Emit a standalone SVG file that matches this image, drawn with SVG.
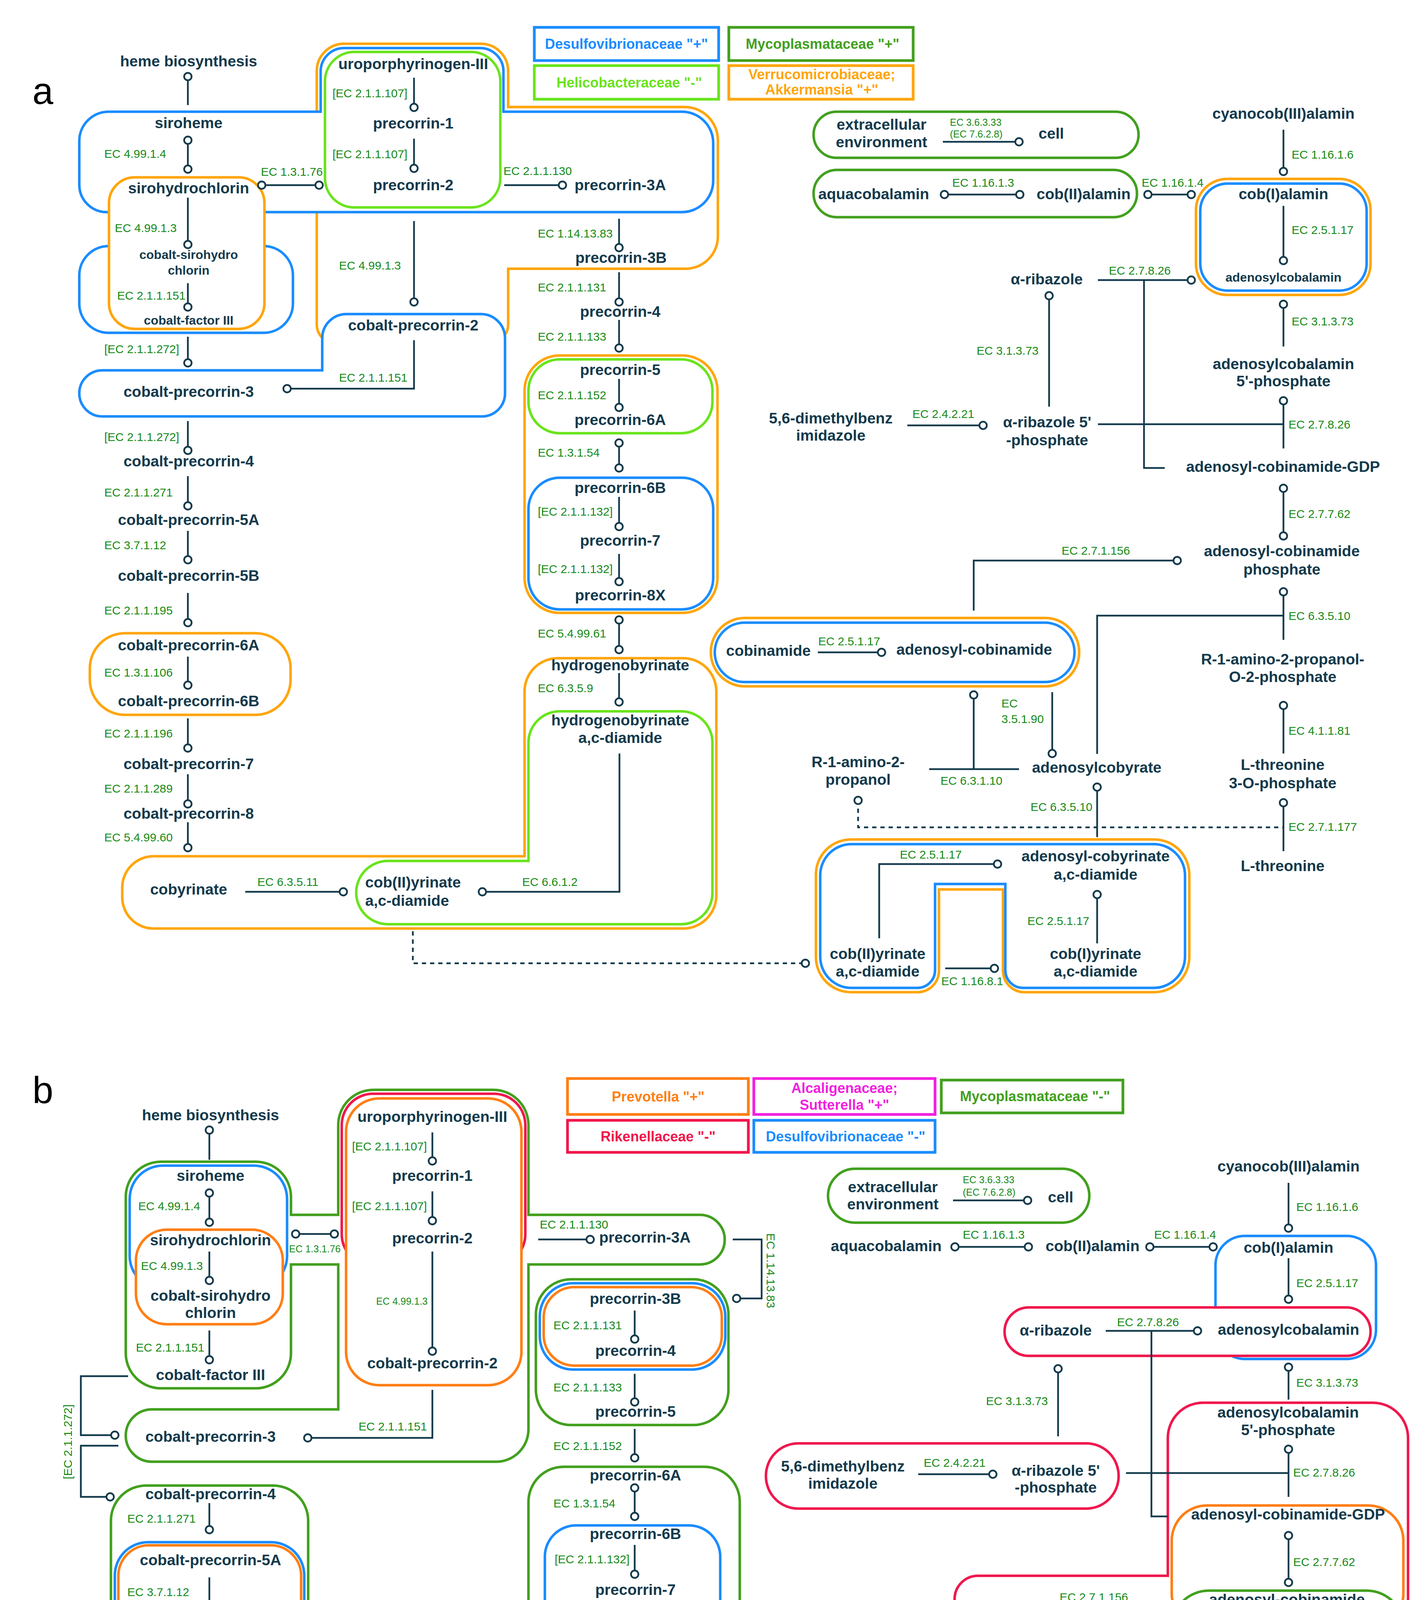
<svg xmlns="http://www.w3.org/2000/svg" width="3651" height="5265" viewBox="0 0 3651 5265">
<defs>
<style>
text{font-family:"Liberation Sans",Arial,sans-serif}
.n{font-weight:700;font-size:39px;fill:#133a4c;text-anchor:middle}
.s{font-size:32px}
.l{text-anchor:start}
.ec{font-size:30px;fill:#178a17}
.sm{font-size:25px}
.e{text-anchor:end}
.c{fill:none;stroke:#133a4c;stroke-width:4.5}
.d{stroke-dasharray:11 10}
.me{marker-end:url(#o)}
.ms{marker-start:url(#o)}
.mb{marker-start:url(#o);marker-end:url(#o)}
.b{fill:#fff;stroke-width:6.5}
.f{fill:none;stroke-width:6.5}
.bl{stroke:#1a8cff}
.or{stroke:#ffa50a}
.lg{stroke:#6ae41c}
.dg{stroke:#42a01e}
.ob{stroke:#ff7e14}
.rd{stroke:#f0174c}
.mg{stroke:#f21fe0}
.lb{fill:none;stroke-width:7}
.lt{font-weight:700;font-size:36px;text-anchor:middle}
.pl{font-size:96px;fill:#000}
</style>
<marker id="o" markerUnits="userSpaceOnUse" markerWidth="30" markerHeight="30" viewBox="-15 -15 30 30" refX="0" refY="0" orient="auto">
<circle r="9.5" fill="#fff" stroke="#133a4c" stroke-width="4.5"/>
</marker>
</defs>
<rect width="3651" height="5265" fill="#fff"/>
<text class="pl" x="83" y="266">a</text>
<text class="pl" x="83" y="2824">b</text>

<!-- ================= PANEL A ================= -->
<g id="a-legend">
<rect class="lb bl" x="1368" y="70" width="472" height="85"/>
<text class="lt" x="1604" y="125" fill="#1a8cff">Desulfovibrionaceae "+"</text>
<rect class="lb dg" x="1866" y="70" width="472" height="85"/>
<text class="lt" x="2106" y="125" fill="#42a01e">Mycoplasmataceae "+"</text>
<rect class="lb lg" x="1368" y="168" width="472" height="86"/>
<text class="lt" x="1611" y="224" fill="#6ae41c">Helicobacteraceae "-"</text>
<rect class="lb or" x="1866" y="168" width="472" height="86"/>
<text class="lt" x="2104" y="203" fill="#ffa50a" font-size="32">Verrucomicrobiaceae;</text>
<text class="lt" x="2104" y="242" fill="#ffa50a" font-size="32">Akkermansia "+"</text>
</g>

<g id="a-groups">
<path id="a-verruco-top" class="b or" d="M811 182A70 70 0 0 1 881 112L1231 112A70 70 0 0 1 1301 182L1301 274L1753 274A85 85 0 0 1 1838 359L1838 605A83 83 0 0 1 1755 688L1301 688L1301 830A50 50 0 0 1 1251 880L861 880A50 50 0 0 1 811 830Z"/>
<path id="a-desulfo-siroheme" class="b bl" d="M203 361A75 75 0 0 1 278 286L821 286L821 183A60 60 0 0 1 881 123L1229 123A60 60 0 0 1 1289 183L1289 286L1746 286A80 80 0 0 1 1826 366L1826 463A80 80 0 0 1 1746 543L273 543A70 70 0 0 1 203 473Z"/>
<rect id="a-helico-uro" class="b lg" x="832" y="133" width="449" height="398" rx="75"/>
<rect id="a-desulfo-cosiro" class="b bl" x="203" y="630" width="547" height="222" rx="75"/>
<rect id="a-verruco-siro" class="b or" x="279" y="454" width="398" height="388" rx="66"/>
<path id="a-desulfo-cp2" class="b bl" d="M825 866A62 62 0 0 1 887 804L1231 804A62 62 0 0 1 1293 866L1293 1007A59 59 0 0 1 1234 1066L262 1066A59 59 0 0 1 262 948L825 948Z"/>
<rect id="a-verruco-cp6" class="b or" x="230" y="1621" width="514" height="209" rx="90"/>
<rect id="a-verruco-p5" class="b or" x="1343" y="910" width="494" height="659" rx="90"/>
<rect id="a-helico-p5" class="b lg" x="1353" y="920" width="471" height="189" rx="80"/>
<rect id="a-desulfo-p6b" class="b bl" x="1353" y="1223" width="473" height="337" rx="80"/>
<path id="a-verruco-hby" class="b or" d="M1343 1770A85 85 0 0 1 1428 1685L1749 1685A85 85 0 0 1 1834 1770L1834 2292A85 85 0 0 1 1749 2377L393 2377A80 80 0 0 1 313 2297L313 2272A80 80 0 0 1 393 2192L1343 2192Z"/>
<path id="a-helico-hby" class="b lg" d="M1353 1901A80 80 0 0 1 1433 1821L1744 1821A80 80 0 0 1 1824 1901L1824 2286A80 80 0 0 1 1744 2366L993 2366A81 81 0 0 1 993 2204L1353 2204Z"/>
<rect id="a-myco-extra" class="b dg" x="2083" y="286" width="832" height="118" rx="59"/>
<rect id="a-myco-aqua" class="b dg" x="2083" y="435" width="828" height="121" rx="60"/>
<rect id="a-verruco-cob1" class="b or" x="3062" y="458" width="447" height="297" rx="80"/>
<rect id="a-desulfo-cob1" class="b bl" x="3073" y="470" width="426" height="274" rx="70"/>
<rect id="a-verruco-cbi" class="b or" x="1820" y="1582" width="943" height="175" rx="87"/>
<rect id="a-desulfo-cbi" class="b bl" x="1830" y="1594" width="921" height="152" rx="76"/>
<path id="a-verruco-cby" class="b or" d="M2089 2239A90 90 0 0 1 2179 2149L2955 2149A90 90 0 0 1 3045 2239L3045 2450A90 90 0 0 1 2955 2540L2623 2540A55 55 0 0 1 2568 2485L2568 2277L2404 2277L2404 2485A55 55 0 0 1 2349 2540L2179 2540A90 90 0 0 1 2089 2450Z"/>
<path id="a-desulfo-cby" class="b bl" d="M2100 2241A80 80 0 0 1 2180 2161L2954 2161A80 80 0 0 1 3034 2241L3034 2449A80 80 0 0 1 2954 2529L2619 2529A45 45 0 0 1 2574 2484L2574 2263L2394 2263L2394 2484A45 45 0 0 1 2349 2529L2180 2529A80 80 0 0 1 2100 2449Z"/>
</g>

<g id="a-connectors" class="c">
<path class="ms" d="M481 196V269"/>
<path class="mb" d="M481 359V433"/>
<path class="me" d="M481 506V626"/>
<path class="me" d="M481 725V786"/>
<path class="me" d="M481 862V929"/>
<path class="me" d="M481 1078V1153"/>
<path class="me" d="M481 1219V1295"/>
<path class="me" d="M481 1359V1433"/>
<path class="me" d="M481 1518V1594"/>
<path class="me" d="M481 1681V1754"/>
<path class="me" d="M481 1839V1915"/>
<path class="me" d="M481 1982V2058"/>
<path class="me" d="M481 2105V2170"/>
<path class="me" d="M628 2283H879"/>
<path class="me" d="M1586 1929V2283H1235"/>
<path class="me d" d="M1057 2384V2466H2062"/>
<path class="mb" d="M670 474H817"/>
<path class="me" d="M1060 199V275"/>
<path class="me" d="M1060 355V431"/>
<path class="me" d="M1060 566V773"/>
<path class="me" d="M1060 871V995H735"/>
<path class="me" d="M1291 474H1440"/>
<path class="me" d="M1585 560V634"/>
<path class="me" d="M1585 697V773"/>
<path class="me" d="M1585 819V891"/>
<path class="me" d="M1585 970V1043"/>
<path class="mb" d="M1585 1134V1198"/>
<path class="me" d="M1585 1272V1348"/>
<path class="me" d="M1585 1418V1489"/>
<path class="mb" d="M1585 1587V1663"/>
<path class="me" d="M1585 1723V1797"/>
<path class="me" d="M2414 363H2609"/>
<path class="mb" d="M2418 498H2611"/>
<path class="mb" d="M2939 498H3050"/>
<path class="me" d="M3286 332V439"/>
<path class="me" d="M3286 527V667"/>
<path class="me" d="M2811 717H3050"/>
<path d="M2929 717V1198H2982"/>
<path class="ms" d="M2686 757V1041"/>
<path class="ms" d="M3286 779V887"/>
<path class="ms" d="M3286 1026V1148"/>
<path d="M2811 1086H3286"/>
<path class="me" d="M2323 1089H2517"/>
<path class="mb" d="M3286 1250V1372"/>
<path class="me" d="M2493 1563V1435H3014"/>
<path class="ms" d="M3286 1515V1638"/>
<path d="M2809 1930V1576H3286"/>
<path class="ms" d="M3286 1806V1929"/>
<path class="ms" d="M3286 2055V2179"/>
<path class="me" d="M2094 1670H2257"/>
<path class="ms" d="M2493 1779V1969"/>
<path d="M2379 1969H2609"/>
<path class="me" d="M2694 1772V1929"/>
<path class="ms d" d="M2197 2049V2118H3286"/>
<path class="ms" d="M2809 2015V2143"/>
<path class="ms" d="M2809 2290V2415"/>
<path class="me" d="M2251 2402V2212H2554"/>
<path class="me" d="M2420 2479H2546"/>
</g>

<g id="a-ec-labels" class="ec">
<text x="267" y="404">EC 4.99.1.4</text>
<text x="294" y="594">EC 4.99.1.3</text>
<text x="300" y="767">EC 2.1.1.151</text>
<text x="267" y="904">[EC 2.1.1.272]</text>
<text x="267" y="1129">[EC 2.1.1.272]</text>
<text x="267" y="1271">EC 2.1.1.271</text>
<text x="267" y="1406">EC 3.7.1.12</text>
<text x="267" y="1573">EC 2.1.1.195</text>
<text x="267" y="1732">EC 1.3.1.106</text>
<text x="267" y="1888">EC 2.1.1.196</text>
<text x="267" y="2029">EC 2.1.1.289</text>
<text x="267" y="2154">EC 5.4.99.60</text>
<text x="659" y="2268">EC 6.3.5.11</text>
<text x="1337" y="2268">EC 6.6.1.2</text>
<text x="668" y="450">EC 1.3.1.76</text>
<text class="e" x="1043" y="249">[EC 2.1.1.107]</text>
<text class="e" x="1043" y="405">[EC 2.1.1.107]</text>
<text x="868" y="690">EC 4.99.1.3</text>
<text x="868" y="977">EC 2.1.1.151</text>
<text x="1289" y="448">EC 2.1.1.130</text>
<text x="1377" y="608">EC 1.14.13.83</text>
<text x="1377" y="746">EC 2.1.1.131</text>
<text x="1377" y="872">EC 2.1.1.133</text>
<text x="1377" y="1022">EC 2.1.1.152</text>
<text x="1377" y="1169">EC 1.3.1.54</text>
<text x="1377" y="1320">[EC 2.1.1.132]</text>
<text x="1377" y="1467">[EC 2.1.1.132]</text>
<text x="1377" y="1632">EC 5.4.99.61</text>
<text x="1377" y="1772">EC 6.3.5.9</text>
<text class="sm" x="2432" y="322">EC 3.6.3.33</text>
<text class="sm" x="2432" y="352">(EC 7.6.2.8)</text>
<text x="2438" y="478">EC 1.16.1.3</text>
<text x="2923" y="478">EC 1.16.1.4</text>
<text x="3307" y="406">EC 1.16.1.6</text>
<text x="3307" y="599">EC 2.5.1.17</text>
<text x="2839" y="703">EC 2.7.8.26</text>
<text class="e" x="2659" y="908">EC 3.1.3.73</text>
<text x="3307" y="833">EC 3.1.3.73</text>
<text x="3299" y="1097">EC 2.7.8.26</text>
<text x="2336" y="1070">EC 2.4.2.21</text>
<text x="3299" y="1326">EC 2.7.7.62</text>
<text x="2718" y="1420">EC 2.7.1.156</text>
<text x="3299" y="1587">EC 6.3.5.10</text>
<text x="3299" y="1881">EC 4.1.1.81</text>
<text x="3299" y="2127">EC 2.7.1.177</text>
<text x="2095" y="1652">EC 2.5.1.17</text>
<text x="2408" y="2009">EC 6.3.1.10</text>
<text x="2564" y="1811">EC</text>
<text x="2564" y="1851">3.5.1.90</text>
<text class="e" x="2797" y="2076">EC 6.3.5.10</text>
<text class="e" x="2789" y="2368">EC 2.5.1.17</text>
<text x="2304" y="2198">EC 2.5.1.17</text>
<text x="2410" y="2522">EC 1.16.8.1</text>
</g>

<g id="a-nodes">
<g id="a-heme"><text class="n" x="483" y="170">heme biosynthesis</text></g>
<g id="a-siroheme"><text class="n" x="483" y="328">siroheme</text></g>
<g id="a-sirohydrochlorin"><text class="n" x="483" y="495">sirohydrochlorin</text></g>
<g id="a-cosirohydrochlorin"><text class="n s" x="483" y="663">cobalt-sirohydro</text><text class="n s" x="483" y="703">chlorin</text></g>
<g id="a-cofactor3"><text class="n s" x="483" y="831">cobalt-factor III</text></g>
<g id="a-cp3"><text class="n" x="483" y="1016">cobalt-precorrin-3</text></g>
<g id="a-cp4"><text class="n" x="483" y="1194">cobalt-precorrin-4</text></g>
<g id="a-cp5a"><text class="n" x="483" y="1344">cobalt-precorrin-5A</text></g>
<g id="a-cp5b"><text class="n" x="483" y="1487">cobalt-precorrin-5B</text></g>
<g id="a-cp6a"><text class="n" x="483" y="1665">cobalt-precorrin-6A</text></g>
<g id="a-cp6b"><text class="n" x="483" y="1808">cobalt-precorrin-6B</text></g>
<g id="a-cp7"><text class="n" x="483" y="1969">cobalt-precorrin-7</text></g>
<g id="a-cp8"><text class="n" x="483" y="2096">cobalt-precorrin-8</text></g>
<g id="a-cobyrinate"><text class="n" x="483" y="2290">cobyrinate</text></g>
<g id="a-cob2yrinate-1"><text class="n l" x="935" y="2272">cob(II)yrinate</text><text class="n l" x="935" y="2319">a,c-diamide</text></g>
<g id="a-uro"><text class="n" x="1058" y="177">uroporphyrinogen-III</text></g>
<g id="a-p1"><text class="n" x="1058" y="329">precorrin-1</text></g>
<g id="a-p2"><text class="n" x="1058" y="487">precorrin-2</text></g>
<g id="a-cp2"><text class="n" x="1058" y="846">cobalt-precorrin-2</text></g>
<g id="a-p3a"><text class="n l" x="1471" y="487">precorrin-3A</text></g>
<g id="a-p3b"><text class="n" x="1590" y="673">precorrin-3B</text></g>
<g id="a-p4"><text class="n" x="1588" y="811">precorrin-4</text></g>
<g id="a-p5"><text class="n" x="1588" y="960">precorrin-5</text></g>
<g id="a-p6a"><text class="n" x="1588" y="1088">precorrin-6A</text></g>
<g id="a-p6b"><text class="n" x="1588" y="1262">precorrin-6B</text></g>
<g id="a-p7"><text class="n" x="1588" y="1397">precorrin-7</text></g>
<g id="a-p8x"><text class="n" x="1588" y="1537">precorrin-8X</text></g>
<g id="a-hby"><text class="n" x="1588" y="1716">hydrogenobyrinate</text></g>
<g id="a-hbyd"><text class="n" x="1588" y="1857">hydrogenobyrinate</text><text class="n" x="1588" y="1902">a,c-diamide</text></g>
<g id="a-extra"><text class="n" x="2257" y="332">extracellular</text><text class="n" x="2257" y="377">environment</text></g>
<g id="a-cell"><text class="n l" x="2659" y="355">cell</text></g>
<g id="a-aqua"><text class="n l" x="2095" y="510">aquacobalamin</text></g>
<g id="a-cob2alamin"><text class="n l" x="2654" y="510">cob(II)alamin</text></g>
<g id="a-cyano"><text class="n" x="3286" y="304">cyanocob(III)alamin</text></g>
<g id="a-cob1alamin"><text class="n" x="3286" y="510">cob(I)alamin</text></g>
<g id="a-adocbl"><text class="n s" x="3286" y="721">adenosylcobalamin</text></g>
<g id="a-ribazole"><text class="n" x="2680" y="728">α-ribazole</text></g>
<g id="a-adocblp"><text class="n" x="3286" y="945">adenosylcobalamin</text><text class="n" x="3286" y="989">5'-phosphate</text></g>
<g id="a-dmb"><text class="n" x="2127" y="1084">5,6-dimethylbenz</text><text class="n" x="2127" y="1128">imidazole</text></g>
<g id="a-ribazolep"><text class="n" x="2681" y="1094">α-ribazole 5'</text><text class="n" x="2681" y="1140">-phosphate</text></g>
<g id="a-gdp"><text class="n" x="3285" y="1208">adenosyl-cobinamide-GDP</text></g>
<g id="a-adocbip"><text class="n" x="3282" y="1424">adenosyl-cobinamide</text><text class="n" x="3282" y="1471">phosphate</text></g>
<g id="a-r1o2p"><text class="n" x="3284" y="1701">R-1-amino-2-propanol-</text><text class="n" x="3284" y="1746">O-2-phosphate</text></g>
<g id="a-thrp"><text class="n" x="3284" y="1971">L-threonine</text><text class="n" x="3284" y="2018">3-O-phosphate</text></g>
<g id="a-thr"><text class="n" x="3284" y="2230">L-threonine</text></g>
<g id="a-cobinamide"><text class="n l" x="1859" y="1679">cobinamide</text></g>
<g id="a-adocbi"><text class="n l" x="2295" y="1676">adenosyl-cobinamide</text></g>
<g id="a-adocby"><text class="n" x="2808" y="1978">adenosylcobyrate</text></g>
<g id="a-r1ap"><text class="n" x="2197" y="1964">R-1-amino-2-</text><text class="n" x="2197" y="2009">propanol</text></g>
<g id="a-adocbyrd"><text class="n" x="2805" y="2205">adenosyl-cobyrinate</text><text class="n" x="2805" y="2252">a,c-diamide</text></g>
<g id="a-cob1yrd"><text class="n" x="2805" y="2455">cob(I)yrinate</text><text class="n" x="2805" y="2500">a,c-diamide</text></g>
<g id="a-cob2yrinate-2"><text class="n" x="2247" y="2455">cob(II)yrinate</text><text class="n" x="2247" y="2500">a,c-diamide</text></g>
</g>

<!-- ================= PANEL B ================= -->
<g id="b-legend">
<rect class="lb ob" x="1453" y="2761" width="463" height="92"/>
<text class="lt" x="1685" y="2820" fill="#ff7e14">Prevotella  "+"</text>
<rect class="lb mg" x="1930" y="2761" width="464" height="92"/>
<text class="lt" x="2162" y="2798" fill="#f21fe0">Alcaligenaceae;</text>
<text class="lt" x="2162" y="2841" fill="#f21fe0">Sutterella "+"</text>
<rect class="lb dg" x="2410" y="2765" width="465" height="84"/>
<text class="lt" x="2650" y="2819" fill="#42a01e">Mycoplasmataceae "-"</text>
<rect class="lb rd" x="1453" y="2868" width="463" height="82"/>
<text class="lt" x="1685" y="2922" fill="#f0174c">Rikenellaceae "-"</text>
<rect class="lb bl" x="1930" y="2868" width="464" height="82"/>
<text class="lt" x="2165" y="2922" fill="#1a8cff">Desulfovibrionaceae "-"</text>
</g>

<g id="b-groups">
<path id="b-myco-top" class="b dg" d="M322 3064A90 90 0 0 1 412 2974L655 2974A90 90 0 0 1 745 3064L745 3110L866 3110L866 2880A90 90 0 0 1 956 2790L1263 2790A90 90 0 0 1 1353 2880L1353 3110L1792 3110A63.5 63.5 0 0 1 1792 3237L1353 3237L1353 3659A83 83 0 0 1 1270 3742L389 3742A67 67 0 0 1 389 3608L866 3608L866 3237L745 3237L745 3464A90 90 0 0 1 655 3554L412 3554A90 90 0 0 1 322 3464Z"/>
<rect id="b-desulfo-siroheme" class="b bl" x="332" y="2984" width="403" height="316" rx="85"/>
<rect id="b-prevo-siro" class="b ob" x="348" y="3148" width="376" height="242" rx="79"/>
<rect id="b-riken-uro" class="b rd" x="875" y="2800" width="470" height="440" rx="80"/>
<rect id="b-prevo-uro" class="b ob" x="886" y="2812" width="449" height="734" rx="85"/>
<rect id="b-myco-cp4" class="b dg" x="284" y="3803" width="505" height="407" rx="90"/>
<rect id="b-desulfo-cp5" class="b bl" x="294" y="3948" width="485" height="252" rx="85"/>
<rect id="b-prevo-cp5" class="b ob" x="303" y="3956" width="468" height="236" rx="78"/>
<rect id="b-myco-cp6" class="b dg" x="284" y="4315" width="505" height="245" rx="90"/>
<path id="b-myco-cby" class="b dg" d="M284 4850A90 90 0 0 1 374 4760L738 4760A50 50 0 0 1 788 4810L788 4846L1150 4846A102 102 0 0 1 1150 5050L374 5050A90 90 0 0 1 284 4960Z"/>
<rect id="b-alcali-cp6b" class="b mg" x="299" y="4457" width="476" height="365" rx="70"/>
<rect id="b-myco-p3b" class="b dg" x="1372" y="3275" width="493" height="373" rx="90"/>
<rect id="b-desulfo-p3b" class="b bl" x="1382" y="3285" width="475" height="221" rx="85"/>
<rect id="b-prevo-p3b" class="b ob" x="1392" y="3295" width="456" height="201" rx="78"/>
<rect id="b-myco-p6a" class="b dg" x="1353" y="3755" width="541" height="865" rx="90"/>
<rect id="b-desulfo-p6b" class="b bl" x="1395" y="3905" width="449" height="333" rx="80"/>
<path id="b-desulfo-hbyd" class="b bl" d="M1370 4581A90 90 0 0 1 1460 4491L1794 4491A90 90 0 0 1 1884 4581L1884 4954A90 90 0 0 1 1794 5044L1032 5044A95 95 0 0 1 1032 4854L1370 4854Z"/>
<path id="b-prevo-hbyd" class="b ob" d="M1381 4581A80 80 0 0 1 1461 4501L1793 4501A80 80 0 0 1 1873 4581L1873 4953A80 80 0 0 1 1793 5033L1033 5033A83.5 83.5 0 0 1 1033 4866L1381 4866Z"/>
<rect id="b-myco-extra" class="b dg" x="2120" y="2992" width="669" height="138" rx="69"/>
<rect id="b-desulfo-cob1" class="b bl" x="3112" y="3164" width="411" height="315" rx="75"/>
<rect id="b-riken-ribazole" class="b rd" x="2572" y="3347" width="937" height="124" rx="62"/>
<rect id="b-riken-dmb" class="b rd" x="1961" y="3695" width="903" height="167" rx="83"/>
<rect id="b-desulfo-cbi" class="b bl" x="1921" y="4264" width="820" height="151" rx="75"/>
<path id="b-myco-adocby" class="b dg" d="M2609 4634A80 80 0 0 1 2689 4554L2962 4554A80 80 0 0 1 3042 4634L3042 4930A60 60 0 0 1 2982 4990L2669 4990A60 60 0 0 1 2609 4930Z"/>
<path id="b-riken-main" class="b rd" d="M2140 4566L2444 4566L2444 4407L2378 4407A67 67 0 0 1 2378 4273L2444 4273L2444 4094A60 60 0 0 1 2504 4034L2990 4034L2990 3681A90 90 0 0 1 3080 3591L3515 3591A90 90 0 0 1 3605 3681L3605 4361A90 90 0 0 1 3515 4451L3080 4451A90 90 0 0 1 2990 4361L2990 4172L2593 4172L2593 4273L2668 4273A67 67 0 0 1 2668 4407L2593 4407L2593 4566L2957 4566A65 65 0 0 1 2957 4696L2140 4696A65 65 0 0 1 2140 4566Z"/>
<rect id="b-prevo-gdp" class="f ob" x="3000" y="3854" width="593" height="316" rx="90"/>
<rect id="b-myco-adocbip" class="f dg" x="3000" y="4072" width="594" height="369" rx="95"/>
<rect id="b-alcali-thr" class="b mg" x="3061" y="4611" width="472" height="308" rx="64"/>
<path id="b-desulfo-cby" class="b bl" d="M2130 4910A90 90 0 0 1 2220 4820L2946 4820A90 90 0 0 1 3036 4910L3036 5100A90 90 0 0 1 2946 5190L2722 5190A60 60 0 0 1 2662 5130L2662 4946L2432 4946L2432 5130A60 60 0 0 1 2372 5190L2220 5190A90 90 0 0 1 2130 5100Z"/>
</g>

<g id="b-connectors" class="c">
<path class="ms" d="M536 2893V2969"/>
<path class="mb" d="M536 3054V3129"/>
<path class="me" d="M536 3204V3278"/>
<path class="me" d="M536 3406V3481"/>
<path class="mb" d="M757 3159H856"/>
<path class="me" d="M328 3523H207V3674H294"/>
<path class="me" d="M303 3701H207V3832H282"/>
<path class="ms" d="M788 3681H1107V3558"/>
<path class="me" d="M1107 2899V2972"/>
<path class="me" d="M1107 3050V3125"/>
<path class="me" d="M1107 3204V3459"/>
<path class="me" d="M536 3848V3916"/>
<path class="me" d="M536 4038V4114"/>
<path class="me" d="M536 4220V4296"/>
<path class="me" d="M536 4361V4435"/>
<path class="me" d="M536 4514V4589"/>
<path class="me" d="M536 4673V4747"/>
<path class="me" d="M539 4831V4913"/>
<path class="me" d="M667 4950H916"/>
<path class="me" d="M1627 4602V4950H1280"/>
<path class="me d" d="M1107 5070V5132H2110"/>
<path class="me" d="M1378 3173H1511"/>
<path class="me" d="M1876 3173H1950V3324H1886"/>
<path class="me" d="M1625 3355V3428"/>
<path class="me" d="M1625 3517V3589"/>
<path class="me" d="M1625 3658V3732"/>
<path class="mb" d="M1625 3809V3882"/>
<path class="me" d="M1625 3955V4030"/>
<path class="me" d="M1625 4105V4178"/>
<path class="mb" d="M1625 4267V4337"/>
<path class="me" d="M1625 4399V4472"/>
<path class="me" d="M2440 3073H2631"/>
<path class="mb" d="M2445 3192H2633"/>
<path class="mb" d="M2944 3192H3106"/>
<path class="me" d="M3299 3028V3144"/>
<path class="me" d="M3299 3221V3326"/>
<path class="me" d="M2831 3407H3066"/>
<path d="M2948 3407V3882H2990"/>
<path class="ms" d="M3299 3500V3583"/>
<path class="ms" d="M2709 3504V3677"/>
<path class="ms" d="M3299 3710V3832"/>
<path d="M2883 3771H3299"/>
<path class="me" d="M2351 3774H2542"/>
<path class="mb" d="M3299 3931V4051"/>
<path class="ms" d="M3299 4193V4315"/>
<path d="M2829 4541V4254H3299"/>
<path class="ms" d="M3299 4472V4596"/>
<path class="ms" d="M3299 4726V4847"/>
<path class="me" d="M2127 4344H2289"/>
<path class="me" d="M2518 4306V4114H2969"/>
<path class="ms" d="M2518 4384V4642"/>
<path d="M2406 4642H2633"/>
<path class="me" d="M2717 4411V4531"/>
<path class="ms d" d="M2228 4720V4789H3299"/>
<path class="ms" d="M2829 4726V4810"/>
<path class="ms" d="M2829 4956V5078"/>
<path class="me" d="M2280 5070V4881H2591"/>
<path class="me" d="M2452 5135H2642"/>
</g>

<g id="b-ec-labels" class="ec">
<text x="354" y="3098">EC 4.99.1.4</text>
<text x="361" y="3251">EC 4.99.1.3</text>
<text x="348" y="3460">EC 2.1.1.151</text>
<text class="sm" x="740" y="3206">EC 1.3.1.76</text>
<text transform="translate(184 3691) rotate(-90)" text-anchor="middle">[EC 2.1.1.272]</text>
<text x="918" y="3662">EC 2.1.1.151</text>
<text class="e" x="1093" y="2945">[EC 2.1.1.107]</text>
<text class="e" x="1093" y="3098">[EC 2.1.1.107]</text>
<text class="sm e" x="1095" y="3340">EC 4.99.1.3</text>
<text x="326" y="3898">EC 2.1.1.271</text>
<text x="326" y="4086">EC 3.7.1.12</text>
<text x="326" y="4275">EC 2.1.1.195</text>
<text x="326" y="4414">EC 1.3.1.106</text>
<text x="326" y="4562">EC 2.1.1.196</text>
<text x="326" y="4720">EC 2.1.1.289</text>
<text class="e" x="528" y="4885">EC 5.4.99.60</text>
<text x="706" y="4935">EC 6.3.5.11</text>
<text x="1381" y="4935">EC 6.6.1.2</text>
<text x="1382" y="3145">EC 2.1.1.130</text>
<text transform="translate(1963 3253) rotate(90)" text-anchor="middle">EC 1.14.13.83</text>
<text x="1417" y="3403">EC 2.1.1.131</text>
<text x="1417" y="3562">EC 2.1.1.133</text>
<text x="1417" y="3712">EC 2.1.1.152</text>
<text x="1417" y="3859">EC 1.3.1.54</text>
<text x="1420" y="4002">[EC 2.1.1.132]</text>
<text x="1420" y="4158">[EC 2.1.1.132]</text>
<text x="1417" y="4317">EC 5.4.99.61</text>
<text x="1417" y="4447">EC 6.3.5.9</text>
<text class="sm" x="2465" y="3029">EC 3.6.3.33</text>
<text class="sm" x="2465" y="3061">(EC 7.6.2.8)</text>
<text x="2465" y="3171">EC 1.16.1.3</text>
<text x="2955" y="3171">EC 1.16.1.4</text>
<text x="3319" y="3100">EC 1.16.1.6</text>
<text x="3319" y="3295">EC 2.5.1.17</text>
<text x="2860" y="3395">EC 2.7.8.26</text>
<text x="3319" y="3550">EC 3.1.3.73</text>
<text class="e" x="2683" y="3597">EC 3.1.3.73</text>
<text x="3311" y="3780">EC 2.7.8.26</text>
<text x="2365" y="3755">EC 2.4.2.21</text>
<text x="3311" y="4009">EC 2.7.7.62</text>
<text x="3311" y="4264">EC 6.3.5.10</text>
<text x="3311" y="4548">EC 4.1.1.81</text>
<text x="3311" y="4797">EC 2.7.1.177</text>
<text x="2144" y="4326">EC 2.5.1.17</text>
<text x="2713" y="4099">EC 2.7.1.156</text>
<text x="2436" y="4678">EC 6.3.1.10</text>
<text transform="translate(2767 4411) rotate(90)">EC</text>
<text transform="translate(2727 4411) rotate(90)">3.5.1.90</text>
<text x="2852" y="4763">EC 6.3.5.10</text>
<text x="2334" y="4864">EC 2.5.1.17</text>
<text x="2670" y="5032">EC 2.5.1.17</text>
<text x="2472" y="5120">EC 1.16.8.1</text>
</g>

<g id="b-nodes">
<g id="b-heme"><text class="n" x="539" y="2868">heme biosynthesis</text></g>
<g id="b-siroheme"><text class="n" x="539" y="3023">siroheme</text></g>
<g id="b-sirohydrochlorin"><text class="n" x="539" y="3188">sirohydrochlorin</text></g>
<g id="b-cosirohydrochlorin"><text class="n" x="539" y="3330">cobalt-sirohydro</text><text class="n" x="539" y="3374">chlorin</text></g>
<g id="b-cofactor3"><text class="n" x="539" y="3533">cobalt-factor III</text></g>
<g id="b-uro"><text class="n" x="1107" y="2872">uroporphyrinogen-III</text></g>
<g id="b-p1"><text class="n" x="1107" y="3023">precorrin-1</text></g>
<g id="b-p2"><text class="n" x="1107" y="3183">precorrin-2</text></g>
<g id="b-cp2"><text class="n" x="1107" y="3503">cobalt-precorrin-2</text></g>
<g id="b-cp3"><text class="n" x="539" y="3691">cobalt-precorrin-3</text></g>
<g id="b-cp4"><text class="n" x="539" y="3838">cobalt-precorrin-4</text></g>
<g id="b-cp5a"><text class="n" x="539" y="4007">cobalt-precorrin-5A</text></g>
<g id="b-cp5b"><text class="n" x="539" y="4166">cobalt-precorrin-5B</text></g>
<g id="b-cp6a"><text class="n" x="539" y="4348">cobalt-precorrin-6A</text></g>
<g id="b-cp6b"><text class="n" x="539" y="4495">cobalt-precorrin-6B</text></g>
<g id="b-cp7"><text class="n" x="539" y="4642">cobalt-precorrin-7</text></g>
<g id="b-cp8"><text class="n" x="539" y="4799">cobalt-precorrin-8</text></g>
<g id="b-cobyrinate"><text class="n" x="539" y="4956">cobyrinate</text></g>
<g id="b-cob2yrinate-1"><text class="n l" x="974" y="4940">cob(II)yrinate</text><text class="n l" x="974" y="4984">a,c-diamide</text></g>
<g id="b-p3a"><text class="n l" x="1534" y="3181">precorrin-3A</text></g>
<g id="b-p3b"><text class="n" x="1627" y="3338">precorrin-3B</text></g>
<g id="b-p4"><text class="n" x="1627" y="3471">precorrin-4</text></g>
<g id="b-p5"><text class="n" x="1627" y="3627">precorrin-5</text></g>
<g id="b-p6a"><text class="n" x="1627" y="3790">precorrin-6A</text></g>
<g id="b-p6b"><text class="n" x="1627" y="3940">precorrin-6B</text></g>
<g id="b-p7"><text class="n" x="1627" y="4083">precorrin-7</text></g>
<g id="b-p8x"><text class="n" x="1627" y="4217">precorrin-8X</text></g>
<g id="b-hby"><text class="n" x="1627" y="4390">hydrogenobyrinate</text></g>
<g id="b-hbyd"><text class="n" x="1627" y="4539">hydrogenobyrinate</text><text class="n" x="1627" y="4583">a,c-diamide</text></g>
<g id="b-extra"><text class="n" x="2286" y="3052">extracellular</text><text class="n" x="2286" y="3096">environment</text></g>
<g id="b-cell"><text class="n l" x="2683" y="3078">cell</text></g>
<g id="b-aqua"><text class="n l" x="2127" y="3203">aquacobalamin</text></g>
<g id="b-cob2alamin"><text class="n l" x="2677" y="3203">cob(II)alamin</text></g>
<g id="b-cyano"><text class="n" x="3299" y="2999">cyanocob(III)alamin</text></g>
<g id="b-cob1alamin"><text class="n" x="3299" y="3207">cob(I)alamin</text></g>
<g id="b-ribazole"><text class="n" x="2703" y="3419">α-ribazole</text></g>
<g id="b-adocbl"><text class="n" x="3299" y="3417">adenosylcobalamin</text></g>
<g id="b-adocblp"><text class="n" x="3298" y="3629">adenosylcobalamin</text><text class="n" x="3298" y="3674">5'-phosphate</text></g>
<g id="b-dmb"><text class="n" x="2158" y="3767">5,6-dimethylbenz</text><text class="n" x="2158" y="3811">imidazole</text></g>
<g id="b-ribazolep"><text class="n" x="2703" y="3778">α-ribazole 5'</text><text class="n" x="2703" y="3821">-phosphate</text></g>
<g id="b-gdp"><text class="n" x="3298" y="3890">adenosyl-cobinamide-GDP</text></g>
<g id="b-adocbip"><text class="n" x="3295" y="4108">adenosyl-cobinamide</text><text class="n" x="3295" y="4151">phosphate</text></g>
<g id="b-r1o2p"><text class="n" x="3296" y="4376">R-1-amino-2-propanol-</text><text class="n" x="3296" y="4421">O-2-phosphate</text></g>
<g id="b-thrp"><text class="n" x="3295" y="4650">L-threonine</text><text class="n" x="3295" y="4696">3-O-phosphate</text></g>
<g id="b-thr"><text class="n" x="3295" y="4898">L-threonine</text></g>
<g id="b-cobinamide"><text class="n s l" x="1938" y="4353">cobinamide</text></g>
<g id="b-adocbi"><text class="n" x="2519" y="4348">adenosyl-cobinamide</text></g>
<g id="b-r1ap"><text class="n" x="2228" y="4629">R-1-amino-2-</text><text class="n" x="2228" y="4673">propanol</text></g>
<g id="b-adocby"><text class="n" x="2828" y="4650">adenosylcobyrate</text></g>
<g id="b-adocbyrd"><text class="n" x="2824" y="4872">adenosyl-cobyrinate</text><text class="n" x="2824" y="4917">a,c-diamide</text></g>
<g id="b-cob1yrd"><text class="n" x="2826" y="5118">cob(I)yrinate</text><text class="n" x="2826" y="5162">a,c-diamide</text></g>
<g id="b-cob2yrinate-2"><text class="n" x="2275" y="5118">cob(II)yrinate</text><text class="n" x="2275" y="5162">a,c-diamide</text></g>
</g>
</svg>
